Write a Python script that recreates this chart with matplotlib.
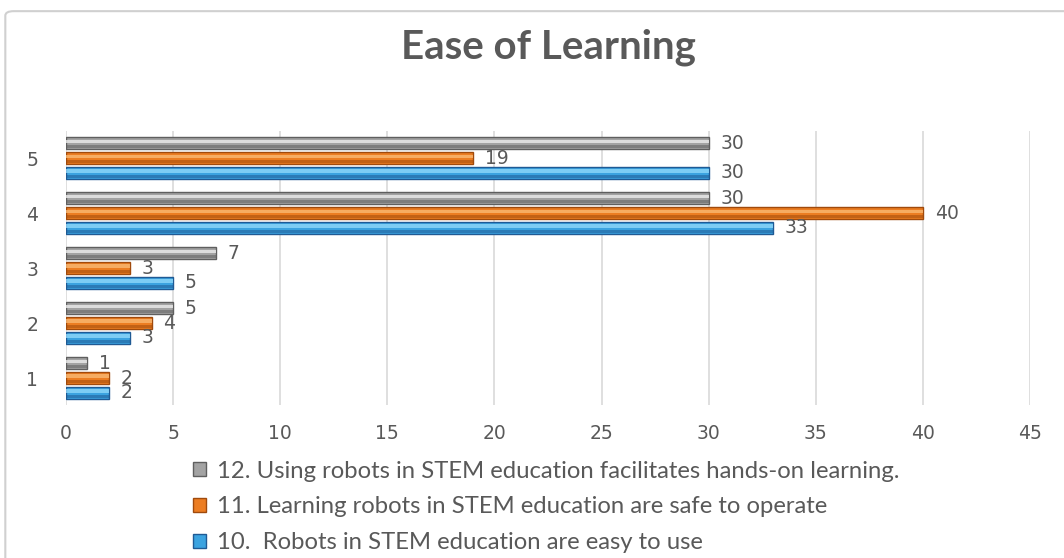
"""Ease of Learning - horizontal grouped bars."""

import matplotlib.pyplot as plt
import numpy as np
from matplotlib.patches import FancyBboxPatch, Patch

categories = [1, 2, 3, 4, 5]
easy_to_use = [2, 3, 5, 33, 30]        # 10.
safe_to_operate = [2, 4, 3, 40, 19]    # 11.
hands_on = [1, 5, 7, 30, 30]           # 12.
series_labels = [
  '10.  Robots in STEM education are easy to use',
  '11. Learning robots in STEM education are safe to operate',
  '12. Using robots in STEM education facilitates hands-on learning.',
]

TXT = '#595959'
styles = [  # (face, dark edge, highlight)
  ('#3ba3e0', '#1f5a94', '#8fd8fa'),
  ('#ec7d22', '#a04a0c', '#f9b873'),
  ('#a3a3a3', '#5f5f5f', '#ececec'),
]

fig = plt.figure(figsize=(10.64, 5.58), dpi=100)
fig.patches.append(FancyBboxPatch((0.005, -0.05), 1.05, 1.03, boxstyle='round,pad=0,rounding_size=0.008',
                                  transform=fig.transFigure, fc='none', ec='#d0d0d0', lw=1.5, zorder=-1))
ax = fig.add_axes([0.062, 0.2733, 0.906, 0.4928])

y = np.arange(len(categories)) + 1
h = 0.22
offsets = [-0.27, 0.0, 0.27]
for vals, off, (fc, ec, hl) in zip([easy_to_use, safe_to_operate, hands_on], offsets, styles):
  ax.barh(y + off, vals, height=h, color=fc, edgecolor=ec, linewidth=1.0, zorder=3)
  ax.barh(y + off + h * 0.14, vals, height=h * 0.3, color=hl, linewidth=0, alpha=0.8, zorder=4)
  ax.barh(y + off - h * 0.3, vals, height=h * 0.25, color=ec, linewidth=0, alpha=0.55, zorder=4)
  for yy, v in zip(y + off, vals):
    ax.text(v + 0.55, yy, str(v), va='center', ha='left', fontsize=13.5, color=TXT, zorder=5)

ax.set_xlim(0, 45)
ax.set_ylim(0.5, 5.5)
ax.set_xticks(np.arange(0, 46, 5))
ax.set_yticks(y)
ax.set_yticklabels([str(c) for c in categories])
ax.tick_params(length=0, labelsize=13.5, labelcolor=TXT)
ax.tick_params(axis='x', pad=13)
ax.tick_params(axis='y', pad=20)
ax.grid(axis='x', color='#d9d9d9', lw=1.2, zorder=0)
for s in ax.spines.values():
  s.set_visible(False)

fig.text(0.515, 0.915, 'Ease of Learning', ha='center', va='center', fontsize=29,
         fontweight='bold', color=TXT, family='Lato')

handles = [Patch(fc=styles[i][0], ec=styles[i][1]) for i in (2, 1, 0)]
labels = [series_labels[i] for i in (2, 1, 0)]
fig.legend(handles, labels, loc='upper left', bbox_to_anchor=(0.161, 0.213), frameon=False,
           handlelength=0.55, handleheight=0.55, handletextpad=0.45, labelspacing=0.62,
           prop={'family': 'Lato', 'size': 17.2}, labelcolor=TXT)

fig.savefig('out.png', dpi=100)
